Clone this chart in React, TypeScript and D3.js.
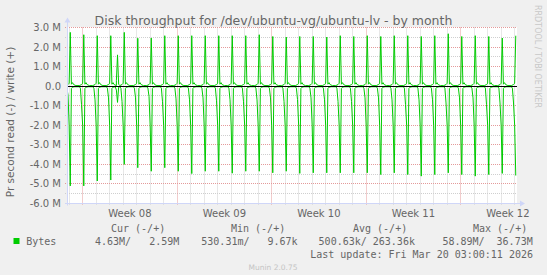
import React from 'react';
import * as d3 from 'd3';

const W = 547;
const H = 275;

// One entry per day, Feb 15 .. Mar 20 2026 (values in M bytes/s)
const writePeaks = [2.75, 2.63, 2.58, 2.58, 2.75, 2.45, 2.46, 2.58, 2.58, 2.58, 2.58, 2.58, 2.58, 2.58, 2.63, 2.54, 2.51, 2.54, 2.54, 2.51, 2.58, 2.54, 2.58, 2.54, 2.58, 2.58, 2.54, 2.58, 2.68, 2.54, 2.58, 2.54, 2.46, 2.58];
const readPeaks = [-5.1, -5.1, -4.85, -4.8, -4.0, -4.17, -4.35, -4.17, -4.35, -4.47, -4.35, -4.35, -4.45, -4.35, -4.35, -4.43, -4.35, -4.46, -4.43, -4.43, -4.43, -4.43, -4.43, -4.52, -4.43, -4.52, -4.6, -4.52, -4.43, -4.52, -4.6, -4.52, -4.46, -4.57];
const readDips = [-0.45, -0.95, -0.7, -0.6, -0.78, -0.6, -0.52, -0.8, -0.65, -0.7, -0.6, -0.75, -0.7, -0.8, -0.7, -0.6, -0.78, -0.69, -0.6, -0.7, -0.78, -0.78, -0.6, -0.6, -0.7, -0.95, -0.7, -0.7, -0.86, -0.6, -0.6, -0.95, -0.86, -0.86];

// intraday shape around each nightly job (hours from midnight)
const readHours = [-6, -4, -2, 0, 2, 4, 6, 10];
const readBase = [-0.03, -0.1, null, -2.0, null, -0.12, -0.05, -0.03];
const writeHours = [-6, -2, 0, 2, 4, 6, 8, 12];
const writeBase = [0.03, 0.08, 0.15, null, 0.1, 0.18, 0.08, 0.03];

// extra afternoon burst on Feb 18
const extraWrite = [{ day: 3, h: 12, v: 0.3 }, { day: 3, h: 14, v: 1.6 }, { day: 3, h: 16, v: 0.1 }];
const extraRead = [{ day: 3, h: 12, v: -0.2 }, { day: 3, h: 14, v: -0.83 }, { day: 3, h: 16, v: -0.05 }];

const yTicks = [3, 2, 1, 0, -1, -2, -3, -4, -5, -6];
const yTickLabels = ['3.0 M', '2.0 M', '1.0 M', '0.0', '-1.0 M', '-2.0 M', '-3.0 M', '-4.0 M', '-5.0 M', '-6.0 M'];

const legendHeaders = ['Cur (-/+)', 'Min (-/+)', 'Avg (-/+)', 'Max (-/+)'];
const legendValues = ['4.63M/   2.59M', '530.31m/   9.67k', '500.63k/ 263.36k', '58.89M/  36.73M'];
const legendHeaderX = [111, 231, 353, 473];
const legendValueX = [95, 201.3, 318.6, 442.4];

const firstDay = new Date(2026, 1, 15);
const lastUpdate = new Date(2026, 2, 20, 3, 0, 11);
const tStart = new Date(2026, 1, 14, 20, 10);
const tEnd = new Date(2026, 2, 20, 4, 10);

const PL = 67, PR = 517, PT = 27.5, PB = 203.5;

function hoursFrom(day: number, h: number) {
  const d = d3.timeDay.offset(firstDay, day);
  return d3.timeHour.offset(d, h);
}

function buildSeries(peaks: number[], hours: number[], base: (number | null)[], dips: number[] | null, extras: { day: number; h: number; v: number }[]) {
  const pts: [Date, number][] = [];
  peaks.forEach((p, i) => {
    hours.forEach((h, k) => {
      let v = base[k];
      if (v === null) {
        v = h === 2 ? p : (dips ? dips[i] : 0);
      }
      const t = hoursFrom(i, h);
      if (t <= lastUpdate) pts.push([t, v as number]);
    });
  });
  extras.forEach(e => pts.push([hoursFrom(e.day, e.h), e.v]));
  pts.sort((a, b) => +a[0] - +b[0]);
  return pts;
}

const writeSeries = buildSeries(writePeaks, writeHours, writeBase, null, extraWrite);
const readSeries = buildSeries(readPeaks, readHours, readBase, readDips, extraRead);

export default function App() {
  const x = d3.scaleTime().domain([tStart, tEnd]).range([PL, PR]);
  const y = d3.scaleLinear().domain([-6, 3]).range([PB, PT]);
  const snap = (v: number) => Math.floor(v) + 0.5;

  const line = d3.line<[Date, number]>().x(d => x(d[0])).y(d => y(d[1]));

  const days = d3.timeDay.range(d3.timeDay.ceil(tStart), tEnd);
  const weeks = d3.timeMonday.range(d3.timeDay.ceil(tStart), tEnd);
  const halfTicks = d3.range(-6, 3.01, 0.5);
  const fmtWeek = d3.timeFormat('%V');

  const gridGrey = '#cfcfcf';
  const gridRed = '#e49a9a';
  const axisCol = '#CFD6F8';
  const fontCol = '#666666';
  const sans = 'DejaVu Sans, sans-serif';
  const mono = 'DejaVu Sans Mono, monospace';

  return (
    <svg width={W} height={H} style={{ position: 'absolute', left: 0, top: 0, background: '#f0f0f0' }}>
      <rect x={0} y={0} width={W} height={H} fill="#f0f0f0" />
      <rect x={PL} y={PT - 0.5} width={PR - PL} height={PB - PT + 0.5} fill="#ffffff" />
      <defs>
        <clipPath id="plotclip">
          <rect x={PL} y={PT - 10} width={PR - PL} height={PB - PT + 20} />
        </clipPath>
      </defs>

      {/* minor grid */}
      {halfTicks.filter(v => Math.abs(v - Math.round(v)) > 0.1).map(v => (
        <line key={'hm' + v} x1={PL - 2} x2={PR} y1={snap(y(v))} y2={snap(y(v))} stroke={gridGrey} strokeDasharray="1,1" />
      ))}
      {days.filter(d => d.getDay() !== 1).map(d => (
        <line key={'vm' + +d} x1={snap(x(d))} x2={snap(x(d))} y1={PT} y2={PB + 2} stroke={gridGrey} strokeDasharray="1,1" />
      ))}
      {/* major grid */}
      {yTicks.filter(v => v !== 0).map(v => (
        <line key={'hM' + v} x1={PL - 2} x2={PR} y1={snap(y(v))} y2={snap(y(v))} stroke={gridRed} strokeDasharray="1,1" />
      ))}
      {weeks.map(d => (
        <line key={'vM' + +d} x1={snap(x(d))} x2={snap(x(d))} y1={PT} y2={PB + 2} stroke={gridRed} strokeDasharray="1,1" />
      ))}

      {/* data */}
      <g clipPath="url(#plotclip)">
        <path d={line(readSeries) || ''} fill="none" stroke="#00cc00" strokeWidth={1} />
        <path d={line(writeSeries) || ''} fill="none" stroke="#00cc00" strokeWidth={1} />
      </g>

      {/* zero rule */}
      <line x1={PL} x2={PR} y1={snap(y(0))} y2={snap(y(0))} stroke="#000000" strokeWidth={1} />

      {/* axes */}
      <line x1={PL - 2} x2={PR + 4} y1={PB} y2={PB} stroke={axisCol} />
      <path d={`M${PR + 3},${PB - 3} L${PR + 8},${PB} L${PR + 3},${PB + 3} Z`} fill={axisCol} />
      <line x1={PL + 0.5} x2={PL + 0.5} y1={PB + 2} y2={PT - 6} stroke={axisCol} />
      <path d={`M${PL - 2.5},${PT - 5} L${PL + 0.5},${PT - 10} L${PL + 3.5},${PT - 5} Z`} fill={axisCol} />

      {/* y labels */}
      {yTicks.map((v, i) => (
        <text key={'yl' + v} x={61} y={y(v) + 3.5} textAnchor="end" fontFamily={sans} fontSize={10} fill={fontCol}>{yTickLabels[i]}</text>
      ))}
      {/* x labels */}
      {weeks.map(d => (
        <text key={'xl' + +d} x={x(d3.timeHour.offset(d, 84))} y={217} textAnchor="middle" fontFamily={sans} fontSize={10} fill={fontCol}>{'Week ' + fmtWeek(d)}</text>
      ))}

      {/* title */}
      <text x={273.5} y={25} textAnchor="middle" fontFamily={sans} fontSize={12.5} fill={fontCol}>Disk throughput for /dev/ubuntu-vg/ubuntu-lv - by month</text>
      {/* y title */}
      <text transform="translate(14,122) rotate(-90)" textAnchor="middle" fontFamily={sans} fontSize={10.5} fill={fontCol}>Pr second read (-) / write (+)</text>
      {/* watermark */}
      <text transform="translate(535,5) rotate(90)" textAnchor="start" fontFamily={sans} fontSize={8} fill="#c8c8c8">RRDTOOL / TOBI OETIKER</text>

      {/* legend */}
      {legendHeaders.map((t, i) => (
        <text key={'lh' + i} x={legendHeaderX[i]} y={232} fontFamily={mono} fontSize={10} fill={fontCol} style={{ whiteSpace: 'pre' }}>{t}</text>
      ))}
      <rect x={13.5} y={238} width={6} height={6} fill="#00cc00" />
      <text x={26.2} y={245} fontFamily={mono} fontSize={10} fill={fontCol}>Bytes</text>
      {legendValues.map((t, i) => (
        <text key={'lv' + i} x={legendValueX[i]} y={245} fontFamily={mono} fontSize={10} fill={fontCol} style={{ whiteSpace: 'pre' }}>{t}</text>
      ))}
      <text x={533} y={258} textAnchor="end" fontFamily={mono} fontSize={10} fill={fontCol} style={{ whiteSpace: 'pre' }}>Last update: Fri Mar 20 03:00:11 2026</text>
      <text x={273} y={270} textAnchor="middle" fontFamily={sans} fontSize={7.5} fill="#c4c4c4">Munin 2.0.75</text>
    </svg>
  );
}
